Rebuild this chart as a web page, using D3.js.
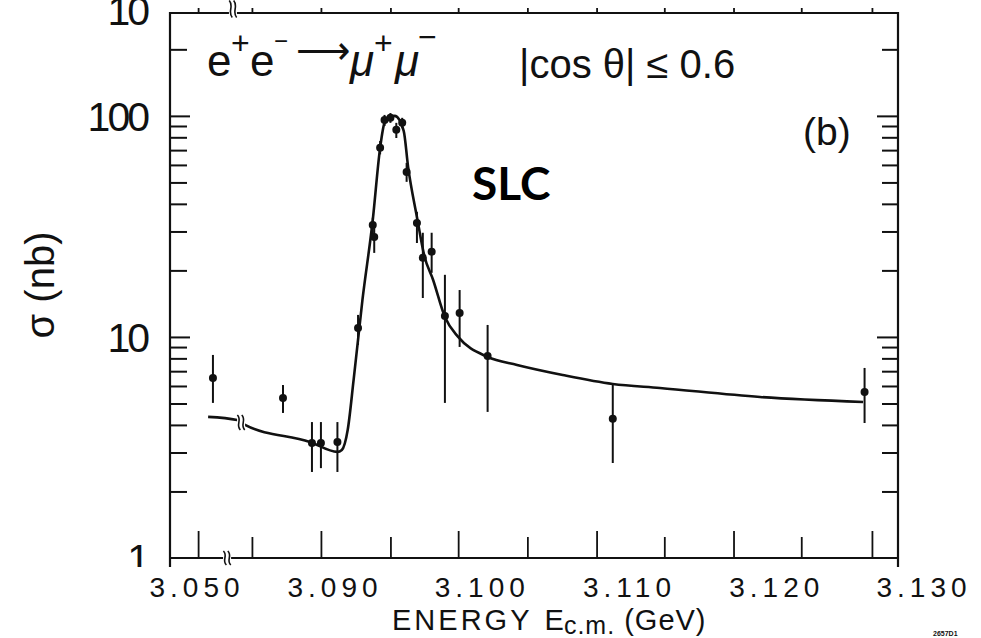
<!DOCTYPE html>
<html>
<head>
<meta charset="utf-8">
<script src="https://cdn.jsdelivr.net/npm/d3@7/dist/d3.min.js"></script>
<style>
body{margin:0;background:#fff}
svg{display:block}
</style>
</head>
<body>
<svg id="graph"></svg>
<script>
// measured points: energy (GeV), cross section (nb), error bar ends
let energy = [3.0552,3.0755,3.0839,3.0865,3.0903,3.0917,3.0927,3.0928,3.0932,3.0935,3.0939,3.0943,3.0947,3.0950,3.0957,3.0961,3.0967,3.0976,3.0986,3.1005,3.1090,3.1261]
let sigma  = [6.52,5.30,3.31,3.31,3.35,10.98,32.1,28.3,71.7,95.9,98.0,86.5,93.0,55.8,32.8,22.8,24.3,12.45,12.84,8.20,4.26,5.64]
let errLow = [5.03,4.53,2.45,2.55,2.45,9.20,28.5,24.0,67.0,90.0,93.0,79.4,88.0,50.3,26.6,15.0,19.5,5.03,9.01,4.58,2.69,4.08]
let errHigh= [8.29,6.06,4.12,4.12,4.12,12.58,34.6,31.5,77.0,101,103,93.0,98.0,61.3,36.8,29.6,29.6,19.1,16.3,11.33,6.06,7.24]

// fitted curve
let fitE = [3.0538,3.0622,3.0645,3.0833,3.0903,3.0906,3.0910,3.0914,3.0920,3.0927,3.0932,3.0935,3.0939,3.0942,3.0948,3.0951,3.0957,3.0962,3.0968,3.0976,3.0985,3.1005,3.1025,3.1056,3.1090,3.1122,3.1190,3.1260]
let fitS = [4.35,4.21,4.00,3.35,3.02,3.08,3.80,6.39,14.7,33.8,71.7,93.0,99.0,100,85.5,58.8,34.9,23.3,18.1,12.3,10.0,8.12,7.47,6.73,6.13,5.88,5.35,5.08]

// axis labels and ticks
let xLabelValues = [3.050,3.090,3.100,3.110,3.120,3.130]
let xLabelTexts = ["3.050","3.090","3.100","3.110","3.120","3.130"]
let xTickValues = [3.0509,3.0665,3.0865,3.0939,3.0985,3.1032,3.1079,3.1125,3.1172,3.1218,3.1266]
let xTickTall = [1,0,1,0,1,0,1,0,1,0,1]
let yLabelValues = [1,10,100,300]
let yLabelTexts = ["1","10","100","10"]
let bottomBreak = 3.0593
let topBreak = 3.0610

let w = 981
let h = 638
let leftx = 170, rightx = 898, topy = 13, bottomy = 558
let ink = "#111"
let font = "'Liberation Sans', Arial, sans-serif"

// broken energy axis: compressed below 3.090
let xscale = d3.scaleLinear()
    .domain([3.050,3.090,3.130])
    .range([195,333,922])

let yscale = d3.scaleLog()
    .domain([1,292])
    .range([bottomy,topy])

let svg = d3.select("#graph")
    .attr("width",w)
    .attr("height",h)

let yticks = yscale.ticks().filter(d=>d>1 && d<292)
let major = yticks.filter(d=>Math.abs(Math.log10(d)-Math.round(Math.log10(d)))<1e-9)
let minor = yticks.filter(d=>major.indexOf(d)<0)

function yaxis(g,side,values,size) {
    let ax = side=="left" ? d3.axisRight(yscale) : d3.axisLeft(yscale)
    g.call(ax.tickValues(values).tickSize(size).tickFormat(""))
    g.select(".domain").remove()
    g.selectAll("line").attr("stroke",ink).attr("stroke-width",2)
}
yaxis(svg.append("g").attr("transform",`translate(${leftx},0)`),"left",minor,17)
yaxis(svg.append("g").attr("transform",`translate(${leftx},0)`),"left",major,20)
yaxis(svg.append("g").attr("transform",`translate(${rightx},0)`),"right",minor,16)
yaxis(svg.append("g").attr("transform",`translate(${rightx},0)`),"right",major,21)

function xaxis(g,values,size) {
    g.call(d3.axisTop(xscale).tickValues(values).tickSize(size).tickFormat(""))
    g.select(".domain").remove()
    g.selectAll("line").attr("stroke",ink).attr("stroke-width",1.8)
}
xaxis(svg.append("g").attr("transform",`translate(0,${bottomy})`),xTickValues.filter((d,i)=>xTickTall[i]),27)
xaxis(svg.append("g").attr("transform",`translate(0,${bottomy})`),xTickValues.filter((d,i)=>!xTickTall[i]),21)
xaxis(svg.append("g").attr("transform",`translate(0,${topy})`),xTickValues,5)

// frame
let frame = svg.append("g").attr("stroke",ink).attr("stroke-width",2.2).attr("fill","none")
frame.append("line").attr("x1",leftx).attr("y1",topy).attr("x2",rightx).attr("y2",topy)
frame.append("line").attr("x1",leftx).attr("y1",bottomy).attr("x2",rightx).attr("y2",bottomy)
frame.append("line").attr("x1",leftx).attr("y1",topy-1).attr("x2",leftx).attr("y2",bottomy+9)
frame.append("line").attr("x1",rightx).attr("y1",topy-1).attr("x2",rightx).attr("y2",bottomy+9)

function draw_break(cx,cy,bh) {
    let g = svg.append("g").attr("transform",`translate(${cx},${cy})`)
    g.append("rect").attr("x",-4).attr("y",-bh/2).attr("width",8).attr("height",bh).attr("fill","#fff")
    ;[-2.2,2.2].forEach(dx=>{
        g.append("path")
            .attr("d",`M${dx-1.5},${-bh/2} C${dx+3.5},${-bh/6} ${dx-3.5},${bh/6} ${dx+1.5},${bh/2}`)
            .attr("fill","none").attr("stroke",ink).attr("stroke-width",1.6)
    })
}
draw_break(xscale(bottomBreak),bottomy,14)
draw_break(xscale(topBreak),topy-4,17)

// fitted curve
let fit = fitE.map((e,i)=>({e:e,s:fitS[i]}))
let line = d3.line()
    .x(d=>xscale(d.e))
    .y(d=>yscale(d.s))
    .curve(d3.curveMonotoneX)
svg.append("path")
    .attr("d",line(fit))
    .attr("fill","none")
    .attr("stroke",ink)
    .attr("stroke-width",2.6)
draw_break((xscale(fitE[1])+xscale(fitE[2]))/2,(yscale(fitS[1])+yscale(fitS[2]))/2,15)

// data points
let pts = energy.map((e,i)=>({e:e,s:sigma[i],lo:errLow[i],hi:errHigh[i]}))
let marks = svg.append("g").selectAll("g")
    .data(pts)
    .enter().append("g")
marks.append("line")
    .attr("x1",d=>xscale(d.e)).attr("x2",d=>xscale(d.e))
    .attr("y1",d=>yscale(d.lo)).attr("y2",d=>yscale(d.hi))
    .attr("stroke",ink).attr("stroke-width",2)
marks.append("circle")
    .attr("cx",d=>xscale(d.e)).attr("cy",d=>yscale(d.s))
    .attr("r",4)
    .attr("fill",ink)

// tick labels
svg.append("clipPath").attr("id","clip").append("rect")
    .attr("x",0).attr("y",0).attr("width",w).attr("height",567)
svg.append("g").attr("clip-path","url(#clip)")
    .selectAll("text")
    .data(yLabelValues)
    .enter().append("text")
    .text((d,i)=>yLabelTexts[i])
    .attr("x",147)
    .attr("y",d=>yscale(d)+15)
    .attr("text-anchor","end")
    .style("font-family",font)
    .style("font-size","41px")
    .style("letter-spacing","-3px")
    .attr("fill",ink)

svg.append("g").selectAll("text")
    .data(xLabelValues)
    .enter().append("text")
    .text((d,i)=>xLabelTexts[i])
    .attr("x",d=>xscale(d)+2)
    .attr("y",597)
    .attr("text-anchor","middle")
    .style("font-family",font)
    .style("font-size","28px")
    .style("letter-spacing","5px")
    .attr("fill",ink)

// axis titles
svg.append("text")
    .text("σ (nb)")
    .attr("transform","translate(54,285) rotate(-90)")
    .attr("text-anchor","middle")
    .style("font-family",font)
    .style("font-size","40px")
    .attr("fill",ink)

let xt = svg.append("text")
    .attr("x",392).attr("y",630)
    .style("font-family",font)
    .style("font-size","29px")
    .attr("fill",ink)
xt.append("tspan").text("ENERGY").style("letter-spacing","3px")
xt.append("tspan").text(" E").attr("dx",4)
xt.append("tspan").text("c.m.").attr("dy",4).style("font-size","25px").style("letter-spacing","1px")
xt.append("tspan").text(" (GeV)").attr("dy",-4).style("letter-spacing","1px")

// annotations
let r = svg.append("text")
    .attr("y",76)
    .style("font-family",font)
    .style("font-size","44px")
    .attr("fill",ink)
r.append("tspan").text("e").attr("x",207)
r.append("tspan").text("+").attr("x",231).attr("dy",-22).style("font-size","32px")
r.append("tspan").text("e").attr("x",250).attr("dy",22)
r.append("tspan").text("−").attr("x",274).attr("dy",-27).style("font-size","24px")
r.append("tspan").text("⟶").attr("x",296).attr("dy",14).style("font-size","38px")
r.append("tspan").text("μ").attr("x",350).attr("dy",13).style("font-style","italic")
r.append("tspan").text("+").attr("x",374).attr("dy",-22).style("font-size","32px")
r.append("tspan").text("μ").attr("x",395).attr("dy",22).style("font-style","italic")
r.append("tspan").text("−").attr("x",418).attr("dy",-28).style("font-size","32px")

svg.append("text")
    .text("|cos θ| ≤ 0.6")
    .attr("x",519).attr("y",78)
    .style("font-family",font)
    .style("font-size","40px")
    .attr("fill",ink)

svg.append("text")
    .text("(b)")
    .attr("x",803).attr("y",145)
    .style("font-family",font)
    .style("font-size","39px")
    .attr("fill",ink)

svg.append("text")
    .text("SLC")
    .attr("x",472).attr("y",200)
    .style("font-family","Lato, 'Open Sans', sans-serif")
    .style("font-weight","700")
    .style("font-size","46px")
    .attr("fill","#000")

svg.append("text")
    .text("2657D1")
    .attr("x",933).attr("y",636)
    .style("font-family",font)
    .style("font-weight","700")
    .style("font-size","7px")
    .attr("fill",ink)
</script>
</body>
</html>
